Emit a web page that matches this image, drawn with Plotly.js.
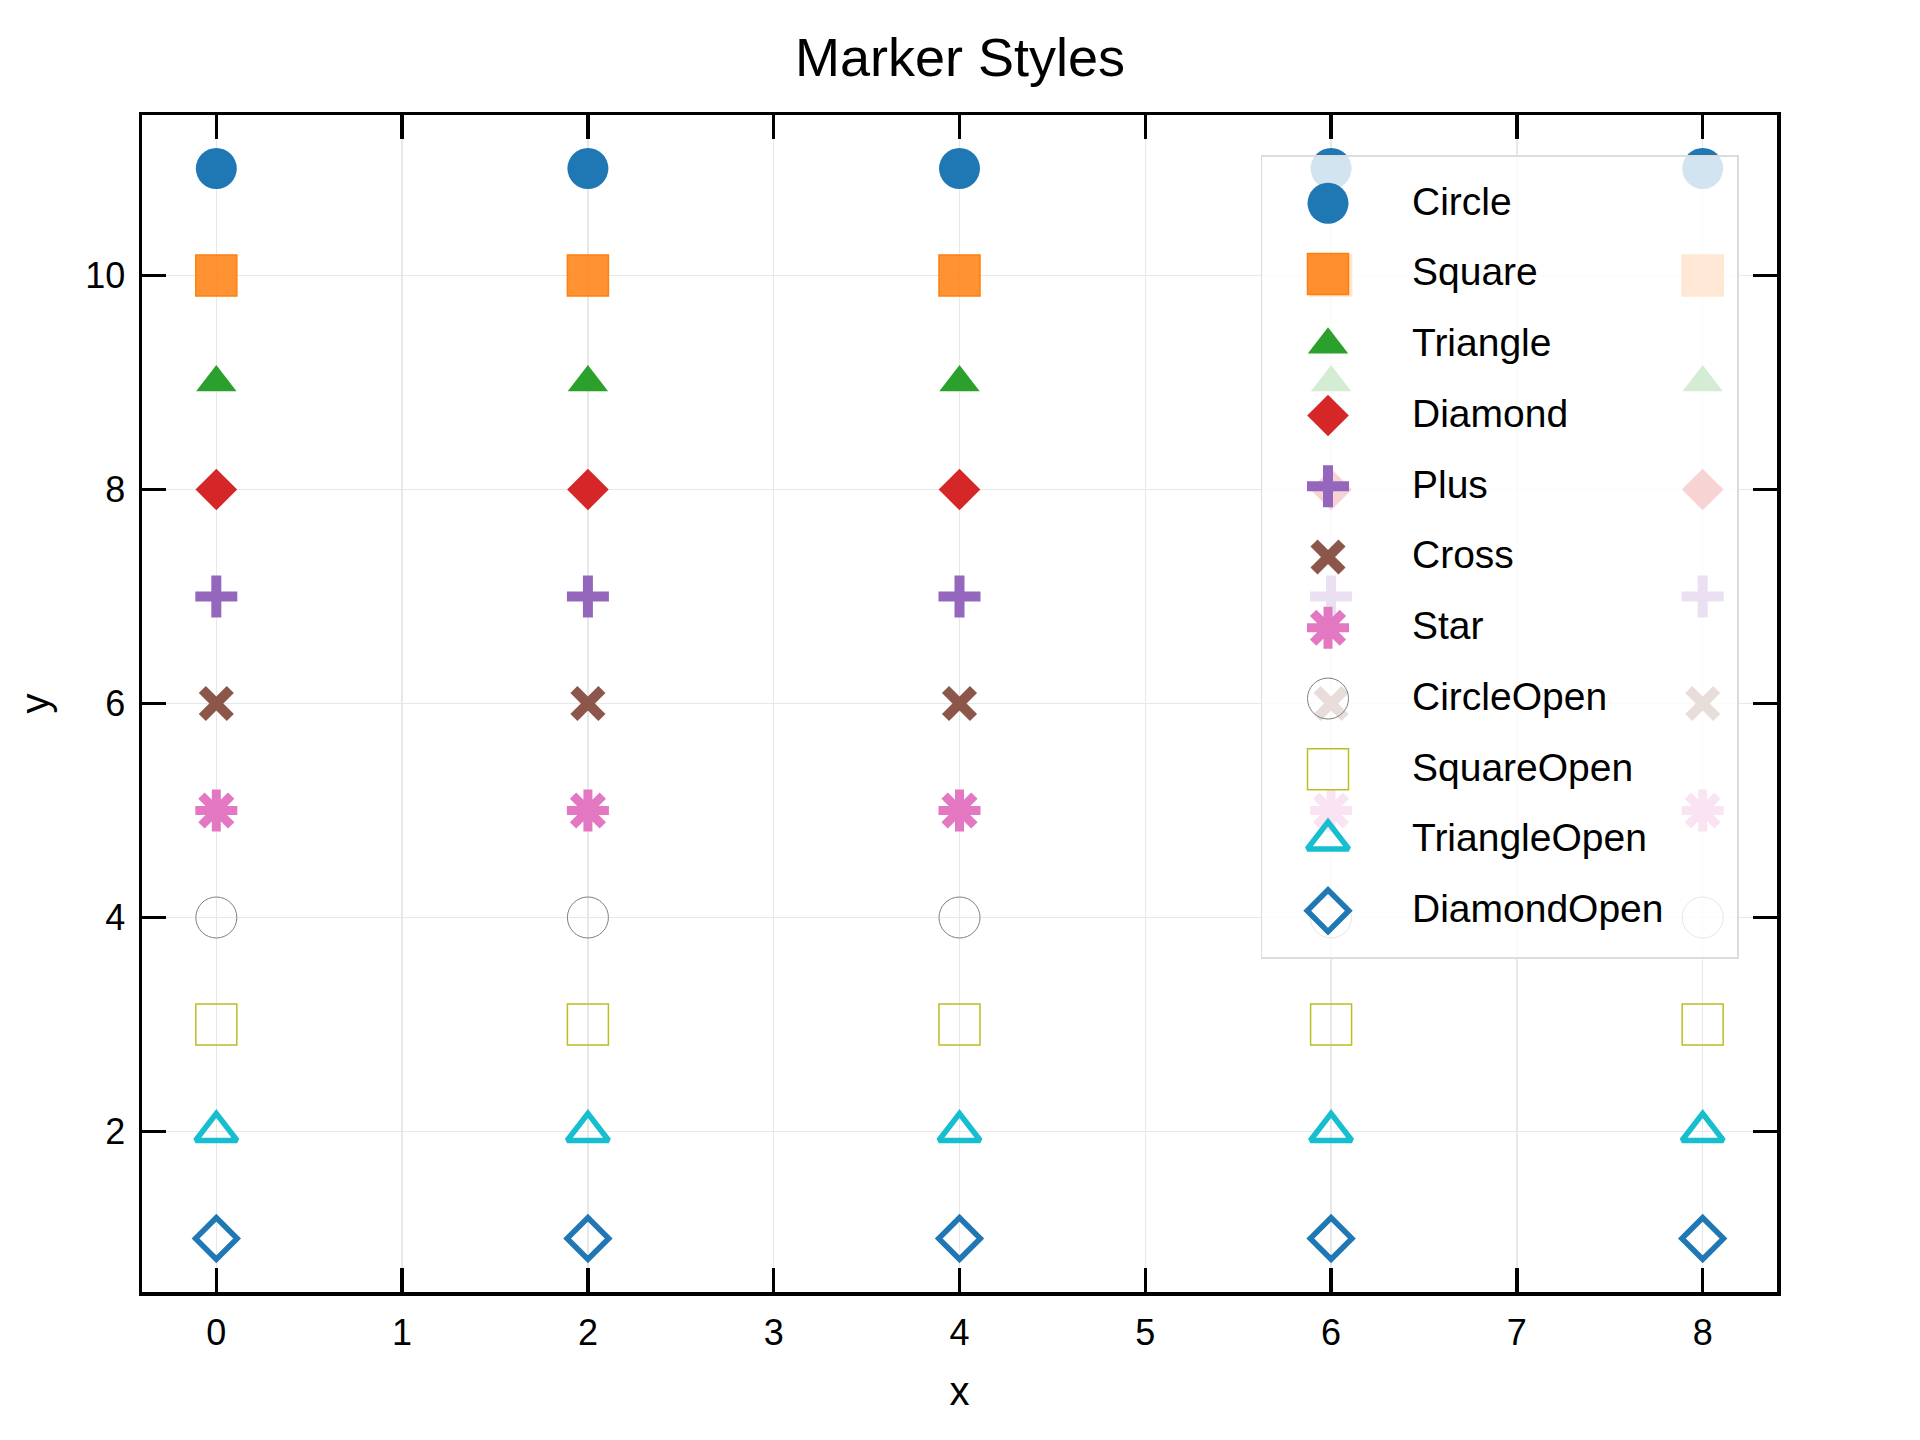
<!DOCTYPE html>
<html>
<head>
<meta charset="utf-8">
<script src="https://cdn.plot.ly/plotly-3.0.1.min.js"></script>
<style>html,body{margin:0;padding:0;background:#fff;}#chart{width:1920px;height:1440px;}</style>
</head>
<body>
<div id="chart"></div>
<script>
// ---- data ----
const xValues = [0, 2, 4, 6, 8];
const seriesNames = ['Circle', 'Square', 'Triangle', 'Diamond', 'Plus', 'Cross', 'Star',
                     'CircleOpen', 'SquareOpen', 'TriangleOpen', 'DiamondOpen'];
const seriesY = [11, 10, 9, 8, 7, 6, 5, 4, 3, 2, 1];
const xTickVals = [0, 1, 2, 3, 4, 5, 6, 7, 8];
const yTickVals = [2, 4, 6, 8, 10];

// ---- styles ----
const markerStyles = [
  {symbol: 'circle', size: 41, color: '#1f77b4', line: {width: 0}},
  {symbol: 'square', size: 41, color: 'rgba(255,127,14,0.85)', line: {width: 1.5, color: '#ff7f0e'}},
  {symbol: 'triangle-up', size: 35, color: '#2ca02c', line: {width: 0}},
  {symbol: 'diamond', size: 32, color: '#d62728', line: {width: 0}},
  {symbol: 'cross-thin-open', size: 30, color: '#9467bd', line: {width: 10}},
  {symbol: 'x-thin-open', size: 28, color: '#8c564b', line: {width: 10}},
  {symbol: 'asterisk-open', size: 35, color: '#e377c2', line: {width: 9}},
  {symbol: 'circle-open', size: 41, color: '#808080', line: {width: 1}},
  {symbol: 'square-open', size: 41, color: '#bcbd22', line: {width: 1.5}},
  {symbol: 'triangle-up-open', size: 36, color: '#17becf', line: {width: 5.5}},
  {symbol: 'diamond-open', size: 32, color: '#1f77b4', line: {width: 5.5}}
];

const FONT = 'Liberation Sans, Arial, Helvetica, sans-serif';

const traces = [];
// main plot traces
seriesNames.forEach((name, i) => {
  traces.push({
    type: 'scatter', mode: 'markers', name: name,
    x: xValues, y: xValues.map(() => seriesY[i]),
    marker: markerStyles[i], xaxis: 'x', yaxis: 'y',
    showlegend: false, cliponaxis: false, hoverinfo: 'name+x+y'
  });
});
// legend box drawn as an overlapping subplot (semi-transparent background)
seriesNames.forEach((name, i) => {
  traces.push({
    type: 'scatter', mode: 'markers', name: name,
    x: [0], y: [i],
    marker: markerStyles[i], xaxis: 'x2', yaxis: 'y2',
    showlegend: false, cliponaxis: false, hoverinfo: 'name'
  });
});

const annotations = seriesNames.map((name, i) => ({
  text: name, xref: 'x2', yref: 'y2', x: 82, y: i - 0.03,
  xanchor: 'left', yanchor: 'middle', showarrow: false,
  font: {family: FONT, size: 39, color: '#000'}
}));

const axisCommon = {
  showline: true, linecolor: '#000', linewidth: 3.5, mirror: 'allticks',
  ticks: 'inside', ticklen: 24, tickwidth: 3.5, tickcolor: '#000',
  showgrid: true, gridcolor: '#e8e8e8', gridwidth: 1.5, zeroline: false,
  tickfont: {family: FONT, size: 36, color: '#000'}
};

const layout = {
  width: 1920, height: 1440,
  paper_bgcolor: '#ffffff',
  plot_bgcolor: 'rgba(255,255,255,0.8)',
  margin: {l: 142, r: 143, t: 115, b: 148, pad: 0},
  showlegend: false,
  title: {
    text: 'Marker Styles', x: 0.5, xanchor: 'center',
    yref: 'container', y: 1 - 57 / 1440, yanchor: 'middle',
    font: {family: FONT, size: 54, color: '#000'}
  },
  xaxis: Object.assign({}, axisCommon, {
    range: [-0.4, 8.4], tickmode: 'array', tickvals: xTickVals,
    ticklabelstandoff: 6,
    title: {text: 'x', standoff: 26, font: {family: FONT, size: 40, color: '#000'}}
  }),
  yaxis: Object.assign({}, axisCommon, {
    range: [0.5, 11.5], tickmode: 'array', tickvals: yTickVals,
    ticklabelstandoff: 6,
    title: {text: 'y', standoff: 24, font: {family: FONT, size: 40, color: '#000'}}
  }),
  xaxis2: {
    domain: [0.68502, 0.97554], range: [-66, 409], anchor: 'y2',
    showgrid: false, zeroline: false, showticklabels: false, ticks: '',
    showline: true, mirror: true, linecolor: '#dcdcdc', linewidth: 1.5, fixedrange: true
  },
  yaxis2: {
    domain: [0.28462, 0.96432], range: [10.653, -0.654], anchor: 'x2',
    showgrid: false, zeroline: false, showticklabels: false, ticks: '',
    showline: true, mirror: true, linecolor: '#dcdcdc', linewidth: 1.5, fixedrange: true
  },
  annotations: annotations
};

Plotly.newPlot('chart', traces, layout, {staticPlot: true, displayModeBar: false});
</script>
</body>
</html>
